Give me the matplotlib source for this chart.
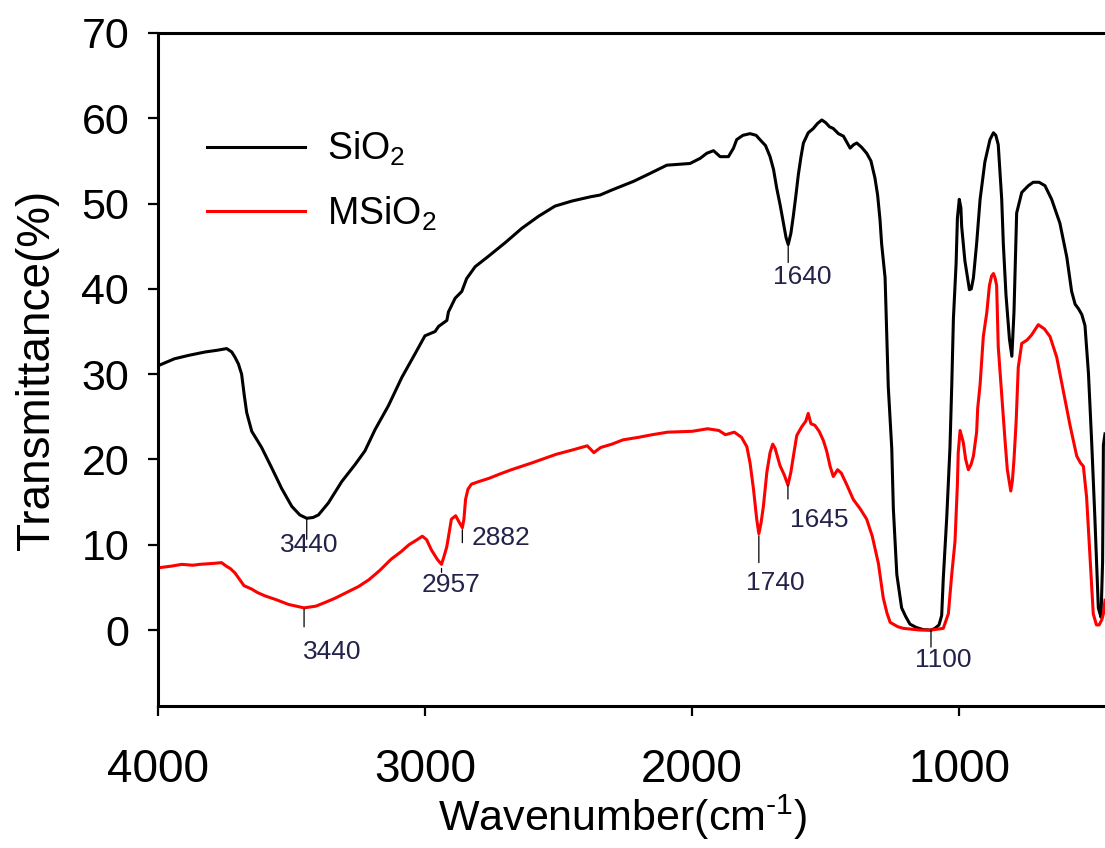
import numpy as np
import matplotlib
matplotlib.use('Agg')
from matplotlib import pyplot as plt

plt.rcParams['font.family'] = ['Liberation Sans', 'DejaVu Sans']
plt.rcParams['mathtext.fontset'] = 'custom'
plt.rcParams['mathtext.rm'] = 'Liberation Sans'
plt.rcParams['mathtext.default'] = 'regular'

# SiO2 spectrum (wavenumber, transmittance %)
sio2_wn = [4000, 3940, 3887, 3825, 3780, 3744, 3725, 3713, 3700, 3688, 3678, 3669, 3650, 3613,
           3575, 3538, 3500, 3470, 3444, 3420, 3400, 3363, 3313, 3263, 3226, 3188, 3138, 3088,
           3038, 3001, 2963, 2950, 2919, 2913, 2888, 2863, 2845, 2813, 2764, 2701, 2638, 2576,
           2514, 2450, 2380, 2345, 2300, 2220, 2160, 2095, 2008, 1970, 1945, 1920, 1895, 1864,
           1845, 1833, 1810, 1783, 1760, 1746, 1725, 1708, 1695, 1683, 1670, 1658, 1648, 1640,
           1630, 1621, 1611, 1602, 1592, 1583, 1565, 1546, 1530, 1514, 1500, 1485, 1471, 1452,
           1433, 1408, 1395, 1383, 1365, 1346, 1330, 1315, 1305, 1296, 1290, 1277, 1271, 1265,
           1252, 1246, 1233, 1215, 1200, 1184, 1160, 1134, 1105, 1090, 1075, 1065, 1059, 1046,
           1034, 1027, 1021, 1011, 1006, 999, 993, 990, 978, 961, 954, 946, 934, 921, 903, 884,
           871, 862, 853, 840, 834, 824, 811, 802, 794, 784, 765, 740, 722, 700, 678, 653, 622,
           596, 578, 565, 553, 540, 528, 515, 503, 491, 478, 468, 462, 459, 453]
sio2_t = [31.0, 31.8, 32.2, 32.6, 32.8, 33.0, 32.6, 32.0, 31.2, 30.0, 27.5, 25.5, 23.3, 21.4,
          19.0, 16.6, 14.5, 13.5, 13.1, 13.2, 13.5, 14.9, 17.4, 19.4, 21.0, 23.5, 26.3, 29.6,
          32.4, 34.5, 35.0, 35.6, 36.3, 37.3, 38.9, 39.7, 41.2, 42.6, 43.8, 45.4, 47.1, 48.5,
          49.7, 50.3, 50.8, 51.0, 51.6, 52.6, 53.5, 54.5, 54.7, 55.3, 55.9, 56.2, 55.5, 55.5,
          56.5, 57.5, 58.0, 58.2, 58.0, 57.5, 56.8, 55.5, 54.0, 51.8, 49.8, 47.7, 46.0, 45.2,
          46.5, 48.5, 51.0, 53.4, 55.5, 57.1, 58.3, 58.8, 59.4, 59.8, 59.5, 59.0, 58.8, 58.2,
          57.9, 56.5, 56.9, 57.1, 56.6, 55.9, 55.0, 53.0, 51.0, 48.1, 45.3, 41.3, 34.9, 28.5,
          21.3, 14.2, 6.5, 2.6, 1.6, 0.7, 0.3, 0.05, 0.0, 0.2, 0.6, 1.7, 6.0, 13.2,
          21.3, 28.9, 36.5, 42.9, 48.3, 50.5, 49.5, 47.3, 43.3, 39.9, 40.0, 41.3, 45.3, 50.5, 54.9, 57.5,
          58.3, 58.0, 56.9, 50.5, 45.3, 39.3, 34.1, 32.1, 37.3, 48.9, 51.3, 52.1, 52.5, 52.5, 52.1, 50.5, 47.7,
          43.7, 39.7, 38.2, 37.7, 37.0, 35.7, 30.1, 22.1, 13.2, 2.6, 1.5, 8.0, 21.7, 23.0]

# MSiO2 spectrum
msio2_wn = [4000, 3950, 3913, 3870, 3846, 3800, 3763, 3746, 3730, 3713, 3695, 3679, 3650, 3629,
            3600, 3562, 3512, 3454, 3410, 3378, 3340, 3295, 3250, 3211, 3170, 3128, 3090, 3061,
            3030, 3011, 2995, 2977, 2955, 2939, 2928, 2919, 2910, 2902, 2886, 2872, 2861, 2855,
            2849, 2840, 2827, 2800, 2760, 2720, 2677, 2600, 2510, 2450, 2393, 2368, 2343, 2300,
            2259, 2200, 2150, 2092, 2000, 1942, 1900, 1875, 1842, 1815, 1795, 1783, 1770, 1758,
            1750, 1742, 1733, 1720, 1708, 1698, 1689, 1671, 1655, 1641, 1630, 1621, 1608, 1590,
            1574, 1565, 1555, 1540, 1524, 1508, 1496, 1483, 1471, 1455, 1441, 1420, 1396, 1370,
            1346, 1325, 1302, 1284, 1270, 1258, 1230, 1209, 1146, 1105, 1059, 1040, 1027, 1015,
            1006, 1003, 996, 984, 975, 965, 955, 946, 934, 930, 921, 915, 909, 896, 886, 878,
            871, 865, 859, 853, 840, 828, 819, 806, 800, 794, 786, 778, 765, 745, 728, 703, 680,
            659, 634, 609, 584, 559, 545, 534, 522, 509, 497, 485, 475, 465, 459, 453]
msio2_t = [7.3, 7.5, 7.7, 7.6, 7.7, 7.8, 7.9, 7.5, 7.2, 6.7, 5.9, 5.2, 4.8, 4.4,
           4.0, 3.6, 3.0, 2.6, 2.8, 3.2, 3.7, 4.4, 5.1, 5.9, 7.0, 8.3, 9.2, 10.0,
           10.6, 11.0, 10.6, 9.4, 8.3, 7.7, 8.8, 9.8, 11.5, 13.0, 13.4, 12.6, 12.0, 13.0,
           15.3, 16.5, 17.1, 17.4, 17.8, 18.3, 18.8, 19.6, 20.6, 21.1, 21.6, 20.8, 21.4, 21.8,
           22.3, 22.6, 22.9, 23.2, 23.3, 23.6, 23.4, 22.9, 23.2, 22.6, 21.5, 19.6, 16.5, 13.0,
           11.3, 12.5, 14.5, 18.5, 20.8, 21.8, 21.3, 19.3, 18.2, 17.0, 18.5, 20.3, 22.8, 23.8,
           24.5, 25.4, 24.2, 24.0, 23.3, 22.2, 21.0, 19.2, 18.0, 18.8, 18.4, 17.0, 15.3, 14.2,
           13.0, 11.0, 7.8, 3.8, 2.0, 0.9, 0.4, 0.2, 0.0, 0.0, 0.2, 1.9, 6.6, 10.4,
           17.1, 20.8, 23.4, 22.0, 20.0, 18.8, 19.4, 20.4, 23.2, 26.0, 28.8, 31.6, 34.4, 37.2, 40.4, 41.5,
           41.8, 41.3, 40.4, 33.2, 27.6, 22.4, 18.8, 16.3, 17.5, 20.0, 24.4, 30.8, 33.6, 34.0, 34.6, 35.8, 35.3,
           34.4, 32.0, 28.0, 24.0, 20.4, 19.6, 19.2, 15.6, 8.5, 1.9, 0.6, 0.6, 1.2, 1.9, 3.5]

# peak labels
peak_curve = ['SiO2', 'MSiO2', 'MSiO2', 'MSiO2', 'MSiO2', 'MSiO2', 'SiO2', 'SiO2']
peak_pos = [3444, 3454, 2939, 2861, 1750, 1641, 1640, 1105]
peak_text = ['3440', '3440', '2957', '2882', '1740', '1645', '1640', '1100']
# layout per label (pixels): tick gap, tick length, text dx, text dy, ha
peak_layout = [(0, 21, 2, -27, 'center'), (1, 18, 28, -44, 'center'),
               (-4, 12, 10, -21, 'center'), (2, 13, 9, -10, 'left'),
               (2, 27, 16, -49, 'center'), (0, 14, 31, -35, 'center'),
               (0, 18, 14, -32, 'center'), (0, 17, 12, -30, 'center')]

fig = plt.figure(figsize=(11.05, 8.48), dpi=100)
ax = fig.add_axes([0.1433, 0.1675, 0.8567, 0.7936])

curves = {'SiO2': (sio2_wn, sio2_t), 'MSiO2': (msio2_wn, msio2_t)}
ax.plot(sio2_wn, sio2_t, color='black', lw=2.2, label='SiO$_2$')
ax.plot(msio2_wn, msio2_t, color='#ff0000', lw=2.2, label='MSiO$_2$')

px = 0.72  # points per pixel
for name, pos, txt, lay in zip(peak_curve, peak_pos, peak_text, peak_layout):
    wn, t = curves[name]
    yv = np.interp(pos, wn[::-1], t[::-1])
    gap, length, dx, dy, ha = lay
    ax.annotate('', xy=(pos, yv), xytext=(0, -(gap + length) * px), textcoords='offset points',
                arrowprops=dict(arrowstyle='-', lw=0.9, color='black', shrinkA=0, shrinkB=gap * px))
    ax.annotate(txt, xy=(pos, yv), xytext=(dx * px, dy * px), textcoords='offset points',
                ha=ha, va='center', fontsize=19, color='#22224a',
                family=['Liberation Sans Narrow', 'Liberation Sans'])

ax.set_xlim(4000, 453)
ax.set_ylim(-8.9, 70)
ax.set_xticks([4000, 3000, 2000, 1000])
ax.set_yticks(range(0, 71, 10))
ax.spines['right'].set_visible(False)
for s in ['left', 'top', 'bottom']:
    ax.spines[s].set_linewidth(2.2)
ax.tick_params(axis='both', direction='out', length=7, width=1.6)
ax.tick_params(axis='x', labelsize=33, pad=23)
ax.tick_params(axis='y', labelsize=31, pad=14)

ax.set_xlabel(r'Wavenumber(cm$^{\text{-1}}$)', fontsize=31, va='center')
ax.xaxis.set_label_coords(0.49, -0.166)
ax.set_ylabel('Transmittance(%)', fontsize=33, va='center')
ax.yaxis.set_label_coords(-0.128, 0.5)

ax.legend(loc='upper left', bbox_to_anchor=(0.0514, 0.856), frameon=False, fontsize=27,
          handlelength=2.6, handletextpad=0.6, labelspacing=0.7, borderpad=0, borderaxespad=0)

fig.savefig('out.png', dpi=100)
